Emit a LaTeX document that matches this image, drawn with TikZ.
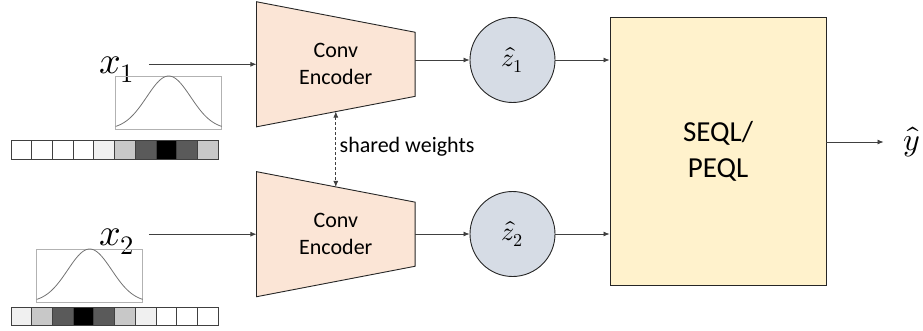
\documentclass[tikz,border=0pt]{standalone}
\usepackage{fontspec}
\usepackage{unicode-math}
\setmainfont{Carlito}
\setmathfont{Latin Modern Math}
\usetikzlibrary{arrows.meta,calc}
\definecolor{encfill}{HTML}{FBE5D6}
\definecolor{latfill}{HTML}{D6DCE5}
\definecolor{eqlfill}{HTML}{FFF2CC}
\definecolor{wire}{HTML}{404040}
\definecolor{cellA}{HTML}{FFFFFF}
\definecolor{cellB}{HTML}{F0F0F0}
\definecolor{cellC}{HTML}{C8C8C8}
\definecolor{cellD}{HTML}{5A5A5A}
\definecolor{cellE}{HTML}{000000}
\pgfdeclarelayer{bg}
\pgfsetlayers{bg,main}
\begin{document}
\begin{tikzpicture}[x=1pt,y=-1pt,
  conn/.style={draw=wire, line width=0.8pt, -{Latex[length=6pt,width=5pt]}},
  encbox/.style={minimum width=158.3pt, minimum height=124.7pt, inner sep=0pt,
    align=center, font=\fontsize{22}{27}\selectfont},
  latent/.style={circle, draw=black!85, line width=0.9pt, fill=latfill,
    minimum size=85pt, inner sep=0pt, font=\fontsize{26}{30}\selectfont},
  eqlbox/.style={draw=black!85, line width=0.9pt, fill=eqlfill, minimum width=216pt,
    minimum height=268pt, inner sep=0pt, align=center, font=\fontsize{29}{36}\selectfont},
  inlabel/.style={anchor=base west, inner sep=0pt, font=\fontsize{38}{44}\selectfont},
  plotframe/.style={draw=black!30, line width=0.6pt},
  bell/.style={draw=black!55, line width=0.8pt},
  cell/.style={draw=black!75, line width=0.9pt}
]
\useasboundingbox (0,0) rectangle (923,331);

% encoders
\node[encbox] (enc1) at (335.8,64.3) {Conv\\Encoder};
\node[encbox] (enc2) at (335.8,234.2) {Conv\\Encoder};
\begin{pgfonlayer}{bg}
  \foreach \e in {enc1,enc2}{
    \filldraw[fill=encfill, draw=black!85, line width=0.9pt]
      (\e.north west) -- ($(\e.north east)+(0,30.5)$)
      -- ($(\e.south east)+(0,-30.5)$) -- (\e.south west) -- cycle;
  }
\end{pgfonlayer}

% shared weights link
\coordinate (sw1) at ($(enc1.south west)!0.5!($(enc1.south east)+(0,-30.5)$)$);
\coordinate (sw2) at ($(enc2.north west)!0.5!($(enc2.north east)+(0,30.5)$)$);
\draw[draw=wire, line width=0.7pt, densely dashed,
  {Latex[length=6pt,width=5pt]}-{Latex[length=6pt,width=5pt]}] (sw1) -- (sw2);
\node[anchor=west, inner sep=0pt, font=\fontsize{22}{27}\selectfont] (sw) at (339.5,147) {shared weights};

% latent codes
\node[latent] (z1) at (512.5,60) {$\hat{z}_1$};
\node[latent] (z2) at (512.5,234) {$\hat{z}_2$};

% equation learner
\node[eqlbox] (eql) at (718,151.7) {SEQL/\\PEQL};
\node[inner sep=0pt, font=\fontsize{32}{38}\selectfont] (yhat) at (912,142) {$\hat{y}$};

% inputs
\node[inlabel] (x1) at (99,73.3) {$x_1$};
\node[inlabel] (x2) at (99,245) {$x_2$};

% gaussian profiles
\draw[plotframe] (115.7,76) rectangle (221.7,129.3);
\draw[bell] plot[domain=-53:53, samples=80, smooth]
  ({168.7+\x}, {129.3-53.3*exp(-((\x/22)^2)/2)});
\draw[plotframe] (36.7,249) rectangle (142.7,302.3);
\draw[bell] plot[domain=-53:53, samples=80, smooth]
  ({89.7+\x}, {302.3-53.3*exp(-((\x/22)^2)/2)});

% discretised intensity bars
\foreach \c [count=\i from 0] in {cellA,cellA,cellA,cellA,cellB,cellC,cellD,cellE,cellD,cellC}{
  \filldraw[cell, fill=\c] ({11+20.73*\i},140.7) rectangle ++(20.73,18.3);
}
\foreach \c [count=\i from 0] in {cellB,cellC,cellD,cellE,cellD,cellC,cellB,cellA,cellA,cellA}{
  \filldraw[cell, fill=\c] ({11+20.73*\i},307.3) rectangle ++(20.73,18.3);
}

% connectors
\draw[conn] ([xshift=14pt]x1.east |- enc1.west) -- (enc1.west);
\draw[conn] ([xshift=14pt]x2.east |- enc2.west) -- (enc2.west);
\draw[conn] (enc1.east |- z1.west) -- (z1.west);
\draw[conn] (enc2.east |- z2.west) -- (z2.west);
\draw[conn] (z1.east) -- (eql.west |- z1.east);
\draw[conn] (z2.east) -- (eql.west |- z2.east);
\draw[conn] (eql.east |- yhat.west) -- ([xshift=-20pt]yhat.west);
\end{tikzpicture}
\end{document}
